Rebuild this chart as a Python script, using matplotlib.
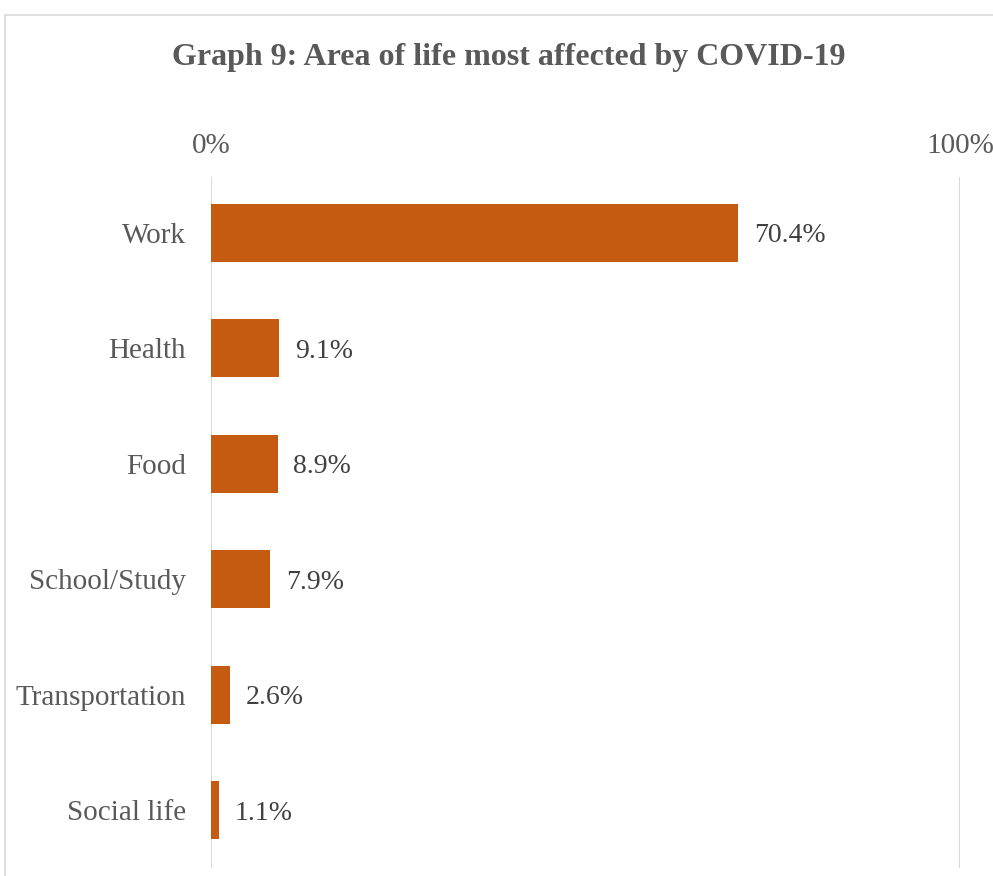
import matplotlib
matplotlib.use("Agg")
import matplotlib.pyplot as plt
from matplotlib.lines import Line2D

# data
categories = ["Work", "Health", "Food", "School/Study", "Transportation", "Social life"]
values = [70.4, 9.1, 8.9, 7.9, 2.6, 1.1]
tick_values = [0, 100]
tick_labels = ["0%", "100%"]

BAR = "#C55A11"
TXT = "#595959"
GRID = "#D9D9D9"

plt.rcParams["font.family"] = ["Liberation Serif", "DejaVu Serif"]

W, H = 993, 876
fig = plt.figure(figsize=(W / 100, H / 100), dpi=100)

# axes: 0% at x=211, 100% at x=960, rows from y=175 to y=868
x0, x1 = 211, 960
y_top, y_bot = 175, 868
ax = fig.add_axes([x0 / W, 1 - y_bot / H, (x1 - x0) / W, (y_bot - y_top) / H])

ypos = list(range(len(categories)))
ax.barh(ypos, values, height=0.5, color=BAR, zorder=3)
ax.set_ylim(len(categories) - 0.5, -0.5)
ax.set_xlim(0, 100)

for y, v in zip(ypos, values):
    ax.text(v + 2.1, y, f"{v:.1f}%", va="center_baseline", ha="left",
            fontsize=20, color="#404040")

ax.set_yticks(ypos)
ax.set_yticklabels(categories, fontsize=21, color=TXT, va="center_baseline")
ax.tick_params(axis="y", length=0, pad=18)

ax.set_xticks(tick_values)
ax.set_xticklabels(tick_labels, fontsize=21, color=TXT)
ax.xaxis.tick_top()
ax.tick_params(axis="x", length=0, pad=11.5)

for s in ax.spines.values():
    s.set_visible(False)
for tv in tick_values:
    ax.axvline(tv, color=GRID, lw=1.5, ymin=0, ymax=0.995, zorder=1)

fig.text(509 / W, 1 - 57 / H, "Graph 9: Area of life most affected by COVID-19",
         ha="center", va="center", fontsize=23, fontweight="bold", color=TXT)

# chart area border (cropped on the right and bottom)
fig.add_artist(Line2D([5 / W, 5 / W], [0, 1 - 15 / H], transform=fig.transFigure,
                      color=GRID, lw=1.2))
fig.add_artist(Line2D([5 / W, 1], [1 - 15 / H, 1 - 15 / H], transform=fig.transFigure,
                      color=GRID, lw=1.2))

fig.savefig("out.png", dpi=100)
